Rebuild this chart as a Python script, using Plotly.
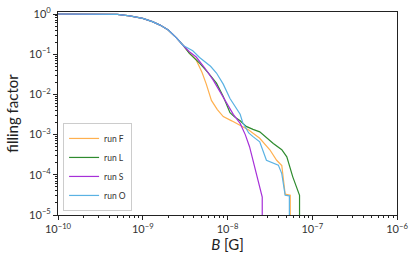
import plotly.graph_objects as go

# common early part (B in gauss, filling factor)
B_early = [1e-10, 3e-10, 5e-10, 7e-10, 1e-9, 1.3e-9, 1.6e-9, 2e-9, 2.5e-9, 3e-9]
f_early = [1.0, 1.0, 0.975, 0.9, 0.78, 0.645, 0.53, 0.40, 0.255, 0.165]

B_F = [3.55e-9, 4.27e-9, 5.01e-9, 5.62e-9, 6.46e-9, 7.59e-9, 8.91e-9, 1.12e-8, 1.41e-8,
       1.78e-8, 2.40e-8, 3.16e-8, 3.80e-8, 4.37e-8, 4.79e-8, 5.50e-8, 5.50e-8]
f_F = [0.107, 0.072, 0.035, 0.018, 0.0071, 0.0042, 0.0028, 0.0022, 0.0017,
       0.0013, 0.00081, 0.00042, 0.00023, 0.00017, 3.3e-5, 3.1e-5, 1e-7]

B_L = [3.55e-9, 4.68e-9, 5.89e-9, 7.41e-9, 8.91e-9, 1.07e-8, 1.20e-8, 1.41e-8, 1.66e-8,
       2.0e-8, 2.40e-8, 3.47e-8, 4.37e-8, 5.01e-8, 5.89e-8, 7.08e-8, 7.08e-8]
f_L = [0.105, 0.06, 0.035, 0.019, 0.0089, 0.0035, 0.0028, 0.0022, 0.0016,
       0.00135, 0.00117, 0.0006, 0.00042, 0.00028, 8.9e-5, 3.1e-5, 1e-7]

B_S = [3.55e-9, 4.27e-9, 5.37e-9, 6.76e-9, 8.13e-9, 9.77e-9, 1.17e-8, 1.41e-8, 1.62e-8,
       1.82e-8, 2.09e-8, 2.40e-8, 2.57e-8, 2.57e-8]
f_S = [0.115, 0.085, 0.046, 0.023, 0.0117, 0.006, 0.0032, 0.0019, 0.0010,
       0.0005, 0.00016, 5.6e-5, 2.8e-5, 1e-7]

B_O = [3.89e-9, 4.68e-9, 6.31e-9, 7.41e-9, 8.91e-9, 1.07e-8, 1.23e-8, 1.41e-8, 1.51e-8,
       1.78e-8, 2.0e-8, 2.40e-8, 2.88e-8, 3.98e-8, 4.37e-8, 4.79e-8, 5.37e-8, 5.37e-8]
f_O = [0.122, 0.083, 0.05, 0.034, 0.018, 0.0079, 0.005, 0.0032, 0.002,
       0.0011, 0.00089, 0.00066, 0.00023, 0.000174, 0.000107, 3.1e-5, 3.0e-5, 1e-7]

names = ["run F", "run L", "run S", "run O"]
colors = ["#ffb04f", "#2e8b2e", "#a630d8", "#5ab2e3"]
series = [(B_F, f_F), (B_L, f_L), (B_S, f_S), (B_O, f_O)]

x_tickvals = [1e-10, 1e-9, 1e-8, 1e-7, 1e-6]
x_ticktext = ["10<sup>−10</sup>", "10<sup>−9</sup>", "10<sup>−8</sup>", "10<sup>−7</sup>", "10<sup>−6</sup>"]
y_tickvals = [1e-5, 1e-4, 1e-3, 1e-2, 1e-1, 1]
y_ticktext = ["10<sup>−5</sup>", "10<sup>−4</sup>", "10<sup>−3</sup>", "10<sup>−2</sup>", "10<sup>−1</sup>", "10<sup>0</sup>"]

fig = go.Figure()
for name, col, (bx, fy) in zip(names, colors, series):
    fig.add_trace(go.Scatter(x=B_early + bx, y=f_early + fy, mode="lines", name=name,
                             line=dict(color=col, width=1.2)))

font_family = "Lato, DejaVu Sans, sans-serif"
axis_common = dict(
    type="log", showline=True, linecolor="#222", linewidth=1, mirror=True,
    ticks="outside", ticklen=4, tickwidth=1, tickcolor="#222",
    showgrid=False, zeroline=False, automargin=False,
    tickfont=dict(size=11, color="#333", family=font_family),
    minor=dict(ticks="outside", ticklen=2, tickcolor="#222", dtick="D1", showgrid=False),
)
fig.update_xaxes(**axis_common, range=[-10, -6], tickvals=x_tickvals, ticktext=x_ticktext,
                 title=dict(text="<i>B</i> [G]", font=dict(size=15, color="#222", family=font_family),
                            standoff=4))
fig.update_yaxes(**axis_common, range=[-5, 0.05], tickvals=y_tickvals, ticktext=y_ticktext,
                 title=dict(text="filling factor", font=dict(size=15, color="#222", family=font_family),
                            standoff=6))

fig.update_layout(
    width=415, height=262,
    margin=dict(l=58, r=18, t=12, b=47),
    plot_bgcolor="white", paper_bgcolor="white",
    font=dict(family=font_family),
    showlegend=True,
    legend=dict(x=0.015, y=0.02, xanchor="left", yanchor="bottom",
                bordercolor="#cccccc", borderwidth=1, bgcolor="rgba(255,255,255,0.85)",
                font=dict(size=8.5, color="#333", family=font_family),
                itemwidth=30, tracegroupgap=0),
)

fig.write_html("out.html", config={"displayModeBar": False},
               post_script="document.body.style.margin='0';document.body.style.padding='0';")
